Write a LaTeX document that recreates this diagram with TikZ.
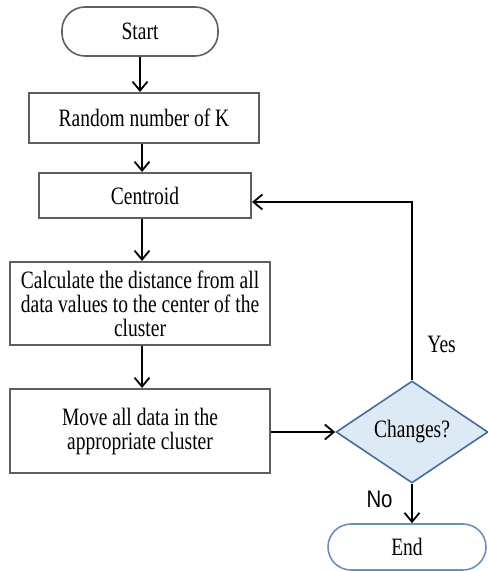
\documentclass[tikz,border=0pt]{standalone}
\usepackage{fontspec}
\setmainfont{Liberation Serif}[FakeStretch=0.78]
\newfontfamily\nolabelfont{Liberation Sans}[FakeStretch=0.85]
\usetikzlibrary{shapes.geometric,arrows.meta}
\definecolor{boxgray}{RGB}{95,95,95}
\definecolor{dmdblue}{RGB}{72,108,158}
\definecolor{dmdfill}{RGB}{222,233,246}
\definecolor{endblue}{RGB}{104,146,188}
\begin{document}
\begin{tikzpicture}[x=0.5pt, y=-0.5pt,
	every node/.style={font=\fontsize{12.5}{12}\selectfont},
	procbox/.style={draw=boxgray, line width=1pt, align=center, inner sep=0pt},
	termbox/.style={procbox, line width=0.8pt, rounded corners=11.5pt},
	flow/.style={line width=0.75pt, -{Straight Barb[length=4.5pt, width=7.5pt, line width=0.9pt]}}]
	\useasboundingbox (0,0) rectangle (487,571);

	\node[termbox, minimum width=78pt, minimum height=24.5pt] (start) at (140,31.5) {Start};
	\node[procbox, minimum width=115pt, minimum height=25pt] (rnd) at (144,118) {Random number of K};
	\node[procbox, minimum width=106pt, minimum height=22.5pt] (cen) at (145,195.5) {Centroid};
	\node[procbox, minimum width=130pt, minimum height=41.5pt] (calc) at (140,303.5) {Calculate the distance from all\\data values to the center of the\\cluster};
	\node[procbox, minimum width=130pt, minimum height=42pt] (move) at (140,431) {Move all data in the\\appropriate cluster};
	\node[diamond, draw=dmdblue, fill=dmdfill, line width=0.8pt, inner sep=0pt, minimum width=76pt, minimum height=51pt] (chg) at (412,432) {Changes?};
	\node[termbox, draw=endblue, minimum width=79pt, minimum height=23pt] (fin) at (407,547) {End};

	\draw[flow] (start) -- (start |- rnd.north);
	\draw[flow] (rnd.south -| 142,0) -- (cen.north -| 142,0);
	\draw[flow] (cen.south -| 142,0) -- (calc.north -| 142,0);
	\draw[flow] (calc.south -| 142,0) -- (move.north -| 142,0);
	\draw[flow] (chg.west -| move.east) -- (chg.west);
	\draw[flow] (chg.north) -- (chg.north |- 0,202) node[pos=0.2, right=4pt] {Yes} -- (cen.east |- 0,202);
	\draw[flow] (chg.south) -- (chg.south |- fin.north) node[pos=0.4, left=6pt, font=\nolabelfont\fontsize{12}{12}\selectfont] {No};
\end{tikzpicture}
\end{document}
